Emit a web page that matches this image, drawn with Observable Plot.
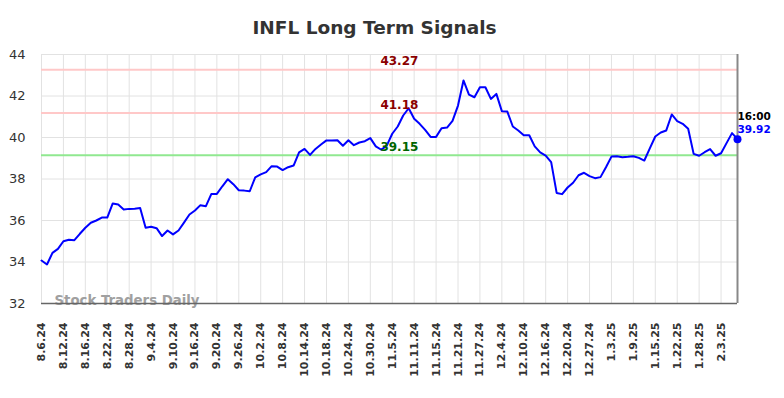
<!DOCTYPE html>
<html>
<head>
<meta charset="utf-8">
<script src="https://cdn.jsdelivr.net/npm/d3@7"></script>
<script src="https://cdn.jsdelivr.net/npm/@observablehq/plot@0.6"></script>
<style>
  html, body { margin: 0; padding: 0; background: #fff; }
  #wrap { width: 784px; height: 398px; overflow: hidden; }
  #title { height: 40px; box-sizing: border-box; padding-top: 17px; padding-right: 35px; line-height: 20px; text-align: center;
           font: bold 18.5px "DejaVu Sans", sans-serif; color: #333; }
</style>
</head>
<body>
<div id="wrap">
  <div id="title">INFL Long Term Signals</div>
  <div id="chart"></div>
</div>
<script>
// x tick labels, one every 4 trading days
const tickLabels = ["8.6.24","8.12.24","8.16.24","8.22.24","8.28.24","9.4.24","9.10.24","9.16.24",
  "9.20.24","9.26.24","10.2.24","10.8.24","10.14.24","10.18.24","10.24.24","10.30.24",
  "11.5.24","11.11.24","11.15.24","11.21.24","11.27.24","12.4.24","12.10.24","12.16.24",
  "12.20.24","12.27.24","1.3.25","1.9.25","1.15.25","1.22.25","1.28.25","2.3.25"];

// closing prices, one per trading day
const prices = [
  34.07, 33.88, 34.44, 34.63, 35.00, 35.07, 35.05, 35.36, 35.65, 35.89,
  36.00, 36.14, 36.14, 36.82, 36.77, 36.53, 36.56, 36.57, 36.60, 35.65,
  35.70, 35.63, 35.25, 35.52, 35.33, 35.52, 35.90, 36.29, 36.48, 36.74,
  36.69, 37.28, 37.28, 37.65, 37.99, 37.75, 37.46, 37.44, 37.41, 38.08,
  38.22, 38.33, 38.62, 38.60, 38.43, 38.57, 38.65, 39.28, 39.45, 39.16,
  39.45, 39.66, 39.86, 39.86, 39.87, 39.60, 39.87, 39.63, 39.76, 39.82,
  39.97, 39.57, 39.41, 39.61, 40.18, 40.53, 41.06, 41.41, 40.90, 40.66,
  40.37, 40.03, 40.03, 40.45, 40.48, 40.80, 41.54, 42.75, 42.07, 41.94,
  42.42, 42.42, 41.86, 42.10, 41.27, 41.25, 40.53, 40.34, 40.11, 40.11,
  39.57, 39.28, 39.13, 38.81, 37.33, 37.27, 37.59, 37.82, 38.18, 38.30,
  38.14, 38.04, 38.09, 38.57, 39.08, 39.10, 39.05, 39.07, 39.10, 39.02,
  38.89, 39.48, 40.05, 40.24, 40.34, 41.11, 40.79, 40.66, 40.42, 39.21,
  39.12, 39.29, 39.44, 39.12, 39.24, 39.73, 40.21, 39.92
];

const levelValues = [43.27, 41.18, 39.15];
const levelLineColors = ["#ffc8c8", "#ffc8c8", "#90e890"];
const levelTextColors = ["#8b0000", "#8b0000", "#006400"];
const yTicks = [32, 34, 36, 38, 40, 42, 44];
const lastTimeLabel = "16:00";

const data = prices.map((v, i) => ({i, v}));
const lastIdx = prices.length - 1;
const last = [{i: lastIdx, v: prices[lastIdx]}];
const levels = levelValues.map((v, k) => ({v, line: levelLineColors[k], text: levelTextColors[k]}));
const tickIdx = tickLabels.map((_, k) => k * 4);
const labelIdx = 65.3;

const chart = Plot.plot({
  width: 784,
  height: 358,
  marginLeft: 41,
  marginRight: 47,
  marginTop: 14,
  marginBottom: 95,
  style: {fontFamily: "DejaVu Sans, sans-serif", background: "#fff", overflow: "visible"},
  x: {domain: [0, lastIdx]},
  y: {domain: [32, 44]},
  marks: [
    Plot.gridX(tickIdx, {stroke: "#e2e2e2", strokeOpacity: 1, strokeWidth: 1}),
    Plot.gridY(yTicks, {stroke: "#e2e2e2", strokeOpacity: 1, strokeWidth: 1}),
    Plot.ruleY(levels, {y: "v", stroke: "line", strokeWidth: 2}),
    Plot.axisY(yTicks, {tickSize: 0, tickPadding: 16, fontSize: 13, color: "#333", label: null}),
    Plot.axisX(tickIdx, {tickSize: 0, tickPadding: 19, tickRotate: -90, fontSize: 11, fontWeight: "bold",
      color: "#333", label: null, tickFormat: (d) => tickLabels[d / 4]}),
    Plot.text(["Stock Traders Daily"], {frameAnchor: "bottom-left", dx: 13, dy: 1, text: (d) => d,
      fontSize: 13.3, fontWeight: "bold", fill: "#a0a0a0", textAnchor: "start"}),
    Plot.ruleY([32], {stroke: "#666", strokeWidth: 1.5}),
    Plot.ruleX([lastIdx], {stroke: "#888", strokeWidth: 2}),
    Plot.line(data, {x: "i", y: "v", stroke: "#0000ff", strokeWidth: 2}),
    Plot.text(levels, {x: () => labelIdx, y: "v", text: (d) => d.v.toFixed(2), fill: "text",
      fontSize: 12, fontWeight: "bold", dy: -8}),
    Plot.dot(last, {x: "i", y: "v", r: 4, fill: "#0000ff"}),
    Plot.text(last, {x: "i", y: "v", text: () => lastTimeLabel, fill: "#000", fontSize: 10.5,
      fontWeight: "bold", textAnchor: "start", dy: -23}),
    Plot.text(last, {x: "i", y: "v", text: (d) => d.v.toFixed(2), fill: "#0000ff", fontSize: 10.5,
      fontWeight: "bold", textAnchor: "start", dy: -10})
  ]
});
document.getElementById("chart").appendChild(chart);
</script>
</body>
</html>
